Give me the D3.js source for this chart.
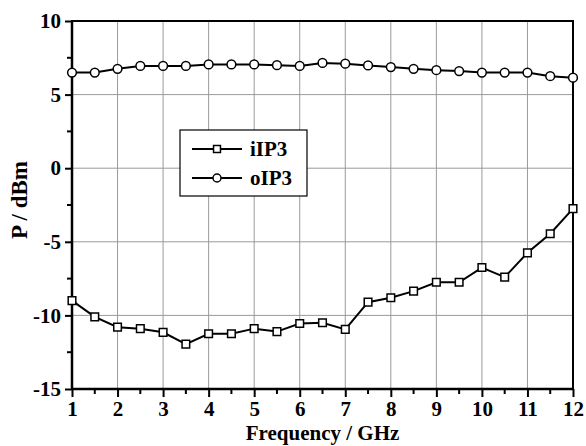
<!DOCTYPE html>
<html>
<head>
<meta charset="utf-8">
<script src="https://cdn.jsdelivr.net/npm/d3@7"></script>
<style>
  body { margin: 0; background: #fff; }
  text { font-family: "Liberation Serif", "Times New Roman", serif; font-weight: bold; }
</style>
</head>
<body>
<div id="chart"></div>
<script>
// frequency points, GHz
var freq = [1, 1.5, 2, 2.5, 3, 3.5, 4, 4.5, 5, 5.5, 6, 6.5, 7, 7.5, 8, 8.5, 9, 9.5, 10, 10.5, 11, 11.5, 12];
var iip3 = [-9.0, -10.1, -10.8, -10.9, -11.15, -11.95, -11.25, -11.25, -10.9, -11.1, -10.55, -10.5, -10.95,
            -9.1, -8.8, -8.35, -7.75, -7.75, -6.75, -7.4, -5.75, -4.45, -2.75];
var oip3 = [6.5, 6.5, 6.75, 6.95, 6.95, 6.95, 7.05, 7.05, 7.05, 7.0, 6.95, 7.15, 7.1,
            6.98, 6.87, 6.75, 6.66, 6.6, 6.5, 6.5, 6.5, 6.25, 6.15];
var xTicks = [1, 2, 3, 4, 5, 6, 7, 8, 9, 10, 11, 12];
var yTicks = [-15, -10, -5, 0, 5, 10];

var W = 586, H = 446;
var margin = {top: 21, right: 13, bottom: 57, left: 72};
var width = W - margin.left - margin.right;
var height = H - margin.top - margin.bottom;

var svg = d3.select('#chart').append('svg')
    .attr('width', W)
    .attr('height', H);
var g = svg.append('g')
    .attr('transform', 'translate(' + margin.left + ',' + margin.top + ')');

var x = d3.scaleLinear().domain([1, 12]).range([0, width]);
var y = d3.scaleLinear().domain([-15, 10]).range([height, 0]);

// grid
g.append('g').selectAll('line').data(xTicks.slice(1, -1)).enter().append('line')
    .attr('x1', function(d) { return x(d); }).attr('x2', function(d) { return x(d); })
    .attr('y1', 0).attr('y2', height)
    .attr('stroke', '#9a9a9a').attr('stroke-width', 1);
g.append('g').selectAll('line').data(yTicks.slice(1, -1)).enter().append('line')
    .attr('y1', function(d) { return y(d); }).attr('y2', function(d) { return y(d); })
    .attr('x1', 0).attr('x2', width)
    .attr('stroke', '#9a9a9a').attr('stroke-width', 1);

// minor ticks
var xMinor = d3.range(1.5, 12, 1);
var yMinor = d3.range(-12.5, 10, 5);

// plain hyphen for negatives, like the original
var fmt = function(d) { return String(d); };
var xAxis = d3.axisBottom(x).tickValues(xTicks).tickFormat(fmt).tickSize(8).tickPadding(4);
var yAxis = d3.axisLeft(y).tickValues(yTicks).tickFormat(fmt).tickSize(7).tickPadding(4);

var gx = g.append('g').attr('transform', 'translate(0,' + height + ')').call(xAxis);
var gy = g.append('g').call(yAxis);
[gx, gy].forEach(function(a) {
    a.select('.domain').remove();
    a.selectAll('line').attr('stroke', '#000').attr('stroke-width', 2);
    a.selectAll('text').attr('fill', '#000').style('font-size', '21px');
});

gx.selectAll('.minor').data(xMinor).enter().append('line')
    .attr('x1', function(d) { return x(d); }).attr('x2', function(d) { return x(d); })
    .attr('y1', 0).attr('y2', 5).attr('stroke', '#000').attr('stroke-width', 2);
gy.selectAll('.minor').data(yMinor).enter().append('line')
    .attr('y1', function(d) { return y(d); }).attr('y2', function(d) { return y(d); })
    .attr('x1', 0).attr('x2', -5).attr('stroke', '#000').attr('stroke-width', 2);

// frame
g.append('rect')
    .attr('width', width).attr('height', height)
    .attr('fill', 'none').attr('stroke', '#000').attr('stroke-width', 2);
g.append('line').attr('x1', 0).attr('x2', 0).attr('y1', 0).attr('y2', height)
    .attr('stroke', '#000').attr('stroke-width', 2.5);
g.append('line').attr('x1', 0).attr('x2', width).attr('y1', height).attr('y2', height)
    .attr('stroke', '#000').attr('stroke-width', 2.5);

// series
var line = d3.line()
    .x(function(d) { return x(d[0]); })
    .y(function(d) { return y(d[1]); });

function drawSeries(vals, shape) {
    var pts = freq.map(function(f, i) { return [f, vals[i]]; });
    g.append('path').datum(pts)
        .attr('d', line)
        .attr('fill', 'none').attr('stroke', '#000').attr('stroke-width', 2);
    var sym = d3.symbol().type(shape === 'circle' ? d3.symbolCircle : d3.symbolSquare)
        .size(shape === 'circle' ? 60 : 58);
    g.append('g').selectAll('path').data(pts).enter().append('path')
        .attr('d', sym)
        .attr('transform', function(d) { return 'translate(' + x(d[0]) + ',' + y(d[1]) + ')'; })
        .attr('fill', '#fff').attr('stroke', '#000').attr('stroke-width', 1.5);
}
drawSeries(iip3, 'square');
drawSeries(oip3, 'circle');

// legend
var legend = svg.append('g').attr('transform', 'translate(180,130)');
legend.append('rect').attr('width', 127).attr('height', 66)
    .attr('fill', '#fff').attr('stroke', '#000').attr('stroke-width', 1.2);
var items = [{name: 'iIP3', shape: 'square'}, {name: 'oIP3', shape: 'circle'}];
items.forEach(function(it, i) {
    var yy = 19 + i * 29;
    legend.append('line').attr('x1', 12).attr('x2', 62).attr('y1', yy).attr('y2', yy)
        .attr('stroke', '#000').attr('stroke-width', 2);
    legend.append('path')
        .attr('d', d3.symbol().type(it.shape === 'circle' ? d3.symbolCircle : d3.symbolSquare).size(it.shape === 'circle' ? 50 : 48))
        .attr('transform', 'translate(37,' + yy + ')')
        .attr('fill', '#fff').attr('stroke', '#000').attr('stroke-width', 1.5);
    legend.append('text').attr('x', 70).attr('y', yy + 7)
        .style('font-size', '21px').text(it.name);
});

// axis titles
svg.append('text')
    .attr('x', margin.left + width / 2).attr('y', 440)
    .attr('text-anchor', 'middle')
    .style('font-size', '21px')
    .text('Frequency / GHz');
svg.append('text')
    .attr('transform', 'translate(27,200) rotate(-90)')
    .attr('text-anchor', 'middle')
    .style('font-size', '23px')
    .text('P / dBm');
</script>
</body>
</html>
